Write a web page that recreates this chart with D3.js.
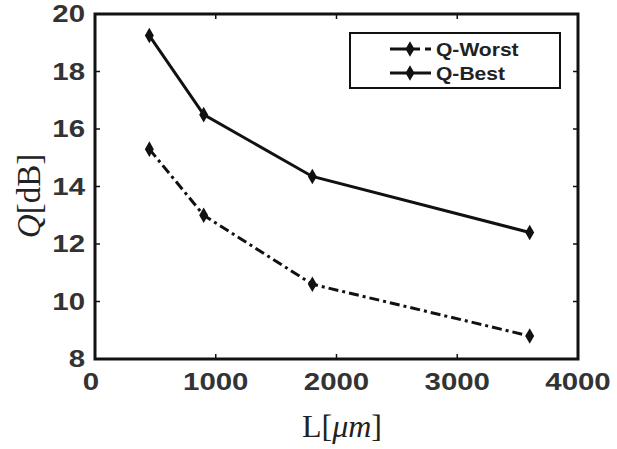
<!DOCTYPE html>
<html><head><meta charset="utf-8">
<script src="https://cdn.jsdelivr.net/npm/d3@7"></script>
<style>body{margin:0;background:#fff;}</style>
</head><body>
<svg id="c" width="617" height="449"></svg>
<script>
const lengths = [450, 900, 1800, 3600];
const qWorst = [15.3, 13.0, 10.6, 8.8];
const qBest = [19.25, 16.5, 14.35, 12.4];
const xTicks = [0, 1000, 2000, 3000, 4000];
const yTicks = [8, 10, 12, 14, 16, 18, 20];
const seriesNames = ["Q-Worst", "Q-Best"];

const svg = d3.select("#c");
const L = 95, R = 578, T = 14, B = 359;
const x = d3.scaleLinear().domain([0, 4000]).range([L, R]);
const y = d3.scaleLinear().domain([8, 20]).range([B, T]);
const font = "Liberation Sans, Arial, sans-serif";
const serif = "Liberation Serif, Times New Roman, serif";

// ticks (inward, all four sides)
const tg = svg.append("g").attr("stroke", "#111").attr("stroke-width", 1.5);
xTicks.forEach(t => {
  tg.append("line").attr("x1", x(t)).attr("x2", x(t)).attr("y1", B).attr("y2", B - 5);
  tg.append("line").attr("x1", x(t)).attr("x2", x(t)).attr("y1", T).attr("y2", T + 5);
});
yTicks.forEach(t => {
  tg.append("line").attr("x1", L).attr("x2", L + 5).attr("y1", y(t)).attr("y2", y(t));
  tg.append("line").attr("x1", R).attr("x2", R - 5).attr("y1", y(t)).attr("y2", y(t));
});
svg.append("rect").attr("x", L).attr("y", T).attr("width", R - L).attr("height", B - T)
  .attr("fill", "none").attr("stroke", "#111").attr("stroke-width", 3);

// tick labels (horizontally stretched like the reference)
const sx = 1.28;
svg.append("g").selectAll("text").data(xTicks).join("text")
  .attr("transform", d => `translate(${x(d) - (d === 0 ? 4 : 0)},${B + 31}) scale(${sx},1)`)
  .attr("text-anchor", "middle")
  .attr("font-family", font).attr("font-weight", "bold").attr("font-size", 23).attr("fill", "#333")
  .text(d => d);
svg.append("g").selectAll("text").data(yTicks).join("text")
  .attr("transform", d => `translate(${L - 10},${y(d) + 8}) scale(${sx},1)`)
  .attr("text-anchor", "end")
  .attr("font-family", font).attr("font-weight", "bold").attr("font-size", 23).attr("fill", "#333")
  .text(d => d);

// axis labels
const xl = svg.append("text").attr("x", 342).attr("y", 437).attr("text-anchor", "middle")
  .attr("font-family", serif).attr("font-size", 32).attr("fill", "#222");
xl.append("tspan").text("L[");
xl.append("tspan").attr("font-style", "italic").text("μm");
xl.append("tspan").text("]");
const yl = svg.append("text").attr("transform", "translate(40,196) rotate(-90)").attr("text-anchor", "middle")
  .attr("font-family", serif).attr("font-size", 33).attr("fill", "#222");
yl.append("tspan").attr("font-style", "italic").text("Q");
yl.append("tspan").text("[dB]");

// lines
const line = d3.line().x(d => x(d[0])).y(d => y(d[1]));
const worstData = lengths.map((l, i) => [l, qWorst[i]]);
const bestData = lengths.map((l, i) => [l, qBest[i]]);
const dashDot = "10,4,3,4";
svg.append("path").datum(worstData).attr("d", line).attr("fill", "none")
  .attr("stroke", "#111").attr("stroke-width", 3).attr("stroke-dasharray", dashDot);
svg.append("path").datum(bestData).attr("d", line).attr("fill", "none")
  .attr("stroke", "#111").attr("stroke-width", 3);

const diamond = d3.symbol().type(d3.symbolDiamond).size(70);
[worstData, bestData].forEach(data => {
  svg.append("g").selectAll("path").data(data).join("path")
    .attr("d", diamond).attr("transform", d => `translate(${x(d[0])},${y(d[1])})`)
    .attr("fill", "#111");
});

// legend
svg.append("rect").attr("x", 350).attr("y", 33).attr("width", 210).attr("height", 55)
  .attr("fill", "#fff").attr("stroke", "#111").attr("stroke-width", 2);
const rows = [49, 73];
seriesNames.forEach((name, i) => {
  const yy = rows[i];
  svg.append("line").attr("x1", 390).attr("x2", 431).attr("y1", yy).attr("y2", yy)
    .attr("stroke", "#111").attr("stroke-width", 3)
    .attr("stroke-dasharray", i === 0 ? "17,5,8,5" : null);
  svg.append("path").attr("d", diamond).attr("transform", `translate(410,${yy})`).attr("fill", "#111");
  svg.append("text").attr("transform", `translate(436,${yy + 7}) scale(1.17,1)`).attr("font-family", font)
    .attr("font-weight", "bold").attr("font-size", 18).attr("fill", "#222").text(name);
});
</script>
</body></html>
